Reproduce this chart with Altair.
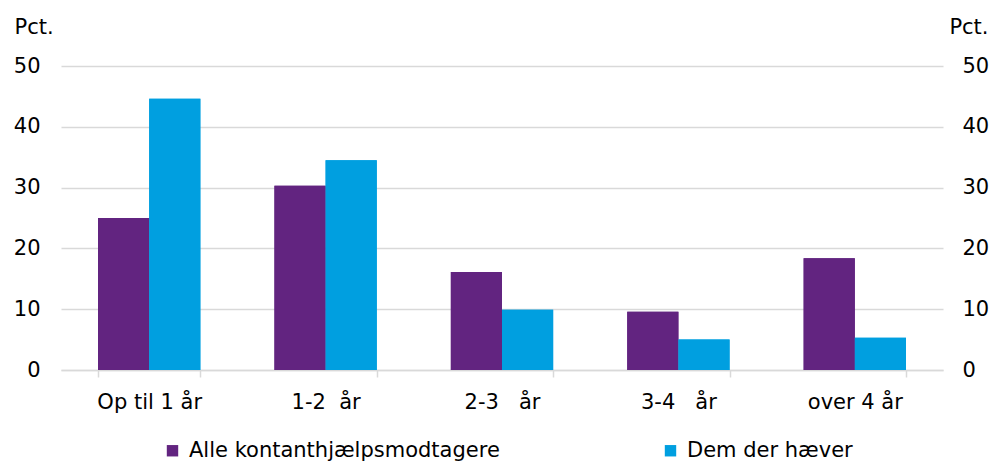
import altair as alt
import pandas as pd

categories = ["Op til 1 år", "1-2\u00a0\u00a0år", "2-3\u00a0\u00a0\u00a0år", "3-4\u00a0\u00a0\u00a0år", "over 4 år"]
series = ["Alle kontanthjælpsmodtagere", "Dem der hæver"]
alle = [25.0, 30.3, 16.1, 9.6, 18.4]
haever = [44.6, 34.5, 9.9, 5.0, 5.3]
colors = ["#622480", "#009FE0"]
y_ticks = [0, 10, 20, 30, 40, 50]

rows = []
for c, a, h in zip(categories, alle, haever):
    rows.append({"kat": c, "serie": series[0], "pct": a})
    rows.append({"kat": c, "serie": series[1], "pct": h})
df = pd.DataFrame(rows)

font = "DejaVu Sans"
grid_c = "#D9D9D9"

base = alt.Chart(df).mark_bar().encode(
    x=alt.X(
        "kat:N", sort=categories, title=None,
        scale=alt.Scale(paddingInner=0.42, paddingOuter=0.21),
        axis=alt.Axis(
            labelAngle=0, labelFontSize=21, labelColor="#000000", labelFont=font,
            labelBaseline="alphabetic", labelPadding=31, tickBand="extent",
            tickSize=7, tickColor=grid_c, tickWidth=1.5,
            domainColor=grid_c, domainWidth=1.5, grid=False,
        ),
    ),
    xOffset=alt.XOffset("serie:N", sort=series, scale=alt.Scale(paddingInner=0, paddingOuter=0)),
    color=alt.Color(
        "serie:N", sort=series,
        scale=alt.Scale(domain=series, range=colors),
        legend=alt.Legend(
            title=None, orient="none", legendX=101, legendY=374,
            direction="horizontal", columns=2, columnPadding=160,
            symbolType="square", symbolSize=130, symbolStrokeWidth=0,
            labelFontSize=21, labelFont=font, labelColor="#000000",
            labelLimit=800, labelOffset=6,
        ),
    ),
)

left = base.encode(
    y=alt.Y(
        "pct:Q", scale=alt.Scale(domain=[0, 50]),
        axis=alt.Axis(
            orient="left", values=y_ticks, title="Pct.", titleAngle=0,
            titleAlign="left", titleBaseline="alphabetic", titleX=-47, titleY=-33,
            titleFont=font, titleFontSize=21, titleFontWeight="normal", titleColor="#000000",
            labelFont=font, labelFontSize=21, labelColor="#000000", labelPadding=21,
            domain=False, ticks=False, grid=True, gridColor=grid_c, gridWidth=1.5,
        ),
    )
)

right = base.encode(
    y=alt.Y(
        "pct:Q", scale=alt.Scale(domain=[0, 50]),
        axis=alt.Axis(
            orient="right", values=y_ticks, title="Pct.", titleAngle=0,
            titleAlign="right", titleBaseline="alphabetic", titleX=45, titleY=-33,
            titleFont=font, titleFontSize=21, titleFontWeight="normal", titleColor="#000000",
            labelFont=font, labelFontSize=21, labelColor="#000000", labelPadding=19,
            domain=False, ticks=False, grid=False,
        ),
    )
)

chart = (
    alt.layer(left, right)
    .resolve_axis(y="independent")
    .properties(
        width=882, height=304,
        autosize=alt.AutoSizeParams(type="none"),
        padding={"left": 53, "top": 58, "right": 46, "bottom": 91},
    )
    .configure_view(stroke=None)
)

chart.save("out.html", embed_options={"renderer": "svg", "actions": False})
